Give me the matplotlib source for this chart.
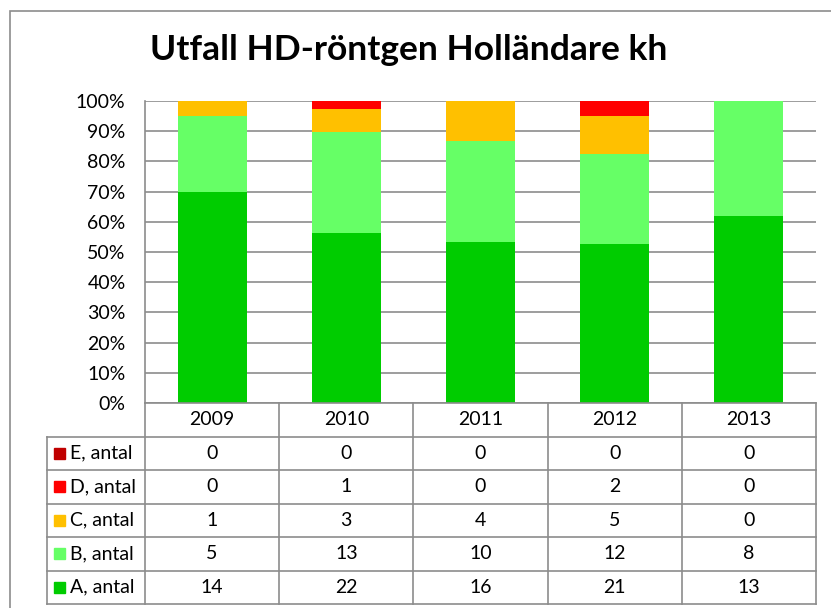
import numpy as np
import matplotlib.pyplot as plt
from matplotlib.patches import Rectangle
from matplotlib.lines import Line2D

plt.rcParams['font.family'] = ['Lato', 'DejaVu Sans']

years = ['2009', '2010', '2011', '2012', '2013']
a_antal = [14, 22, 16, 21, 13]
b_antal = [5, 13, 10, 12, 8]
c_antal = [1, 3, 4, 5, 0]
d_antal = [0, 1, 0, 2, 0]
e_antal = [0, 0, 0, 0, 0]

series = [('A, antal', a_antal, '#00CC00'),
          ('B, antal', b_antal, '#66FF66'),
          ('C, antal', c_antal, '#FFC000'),
          ('D, antal', d_antal, '#FF0000'),
          ('E, antal', e_antal, '#C00000')]

W, H = 831, 608
fig = plt.figure(figsize=(W/100, H/100), dpi=100)
FS = 14

def fx(px):
    return px / W

def fy(py):
    return 1 - py / H

# outer chart frame
fig.patches.append(Rectangle((fx(9.5), fy(700)), fx(900), fy(10.5) - fy(700),
                             transform=fig.transFigure, fill=False,
                             edgecolor='#8c8c8c', lw=1.2))

left, right, top, bottom = 145, 816, 101, 403
ax = fig.add_axes([fx(left), fy(bottom), fx(right - left), fy(top) - fy(bottom)])

totals = np.sum([s[1] for s in series], axis=0).astype(float)
x = np.arange(len(years))
base = np.zeros(len(years))
for name, vals, col in series:
    share = np.array(vals) / totals
    ax.bar(x, share, bottom=base, width=0.515, color=col, zorder=2)
    base += share

ax.set_xlim(-0.5, len(years) - 0.5)
ax.set_ylim(0, 1)
ax.set_yticks(np.arange(0, 1.01, 0.1))
ax.set_yticklabels(['%d%%' % round(v * 100) for v in np.arange(0, 1.01, 0.1)], fontsize=FS)
ax.set_xticks([])
ax.tick_params(axis='y', length=0, pad=14)
ax.grid(axis='y', color='#8c8c8c', lw=1.2, zorder=0)
for sp in ['top', 'right', 'bottom']:
    ax.spines[sp].set_visible(False)
ax.spines['left'].set_color('#8c8c8c')
ax.spines['left'].set_linewidth(1.2)

# data table under the bars
line_kw = dict(transform=fig.transFigure, color='#8c8c8c', lw=1.2)
col_w = (right - left) / len(years)
rows_y = [403, 436.5, 470, 503.5, 537, 570.5, 604]
leg_left = 47

# horizontal lines
fig.add_artist(Line2D([fx(left), fx(right)], [fy(rows_y[0])] * 2, **line_kw))
for ry in rows_y[1:]:
    fig.add_artist(Line2D([fx(leg_left), fx(right)], [fy(ry)] * 2, **line_kw))
# vertical lines
fig.add_artist(Line2D([fx(leg_left)] * 2, [fy(rows_y[1]), fy(rows_y[-1])], **line_kw))
for i in range(len(years) + 1):
    xx = left + i * col_w
    fig.add_artist(Line2D([fx(xx)] * 2, [fy(rows_y[0]), fy(rows_y[-1])], **line_kw))

for i, yr in enumerate(years):
    cx = left + (i + 0.5) * col_w
    fig.text(fx(cx), fy((rows_y[0] + rows_y[1]) / 2), yr, ha='center', va='center', fontsize=FS)

for r, (name, vals, col) in enumerate(reversed(series)):
    cy = (rows_y[r + 1] + rows_y[r + 2]) / 2
    fig.patches.append(Rectangle((fx(54), fy(cy + 5.5)), fx(11), fy(cy - 5.5) - fy(cy + 5.5),
                                 transform=fig.transFigure, color=col))
    fig.text(fx(70), fy(cy), name, ha='left', va='center', fontsize=FS)
    for i, v in enumerate(vals):
        cx = left + (i + 0.5) * col_w
        fig.text(fx(cx), fy(cy), str(v), ha='center', va='center', fontsize=FS)

fig.text(fx(409), fy(50), 'Utfall HD-röntgen Holländare kh', ha='center', va='center',
         fontsize=25.5, fontweight='bold')

fig.savefig('out.png', dpi=100)
